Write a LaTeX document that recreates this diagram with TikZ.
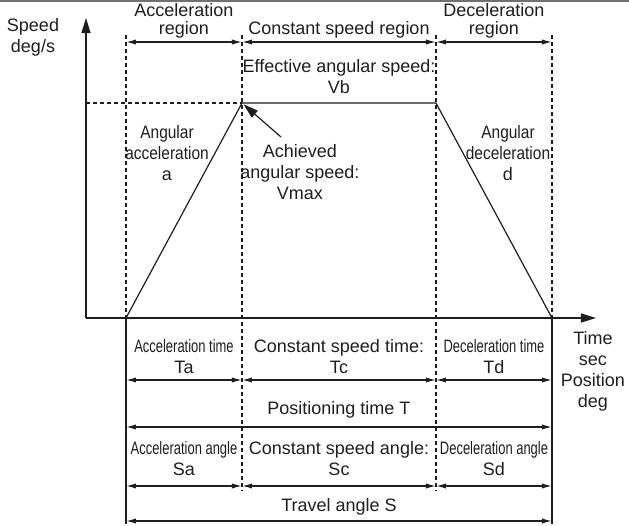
\documentclass[tikz,border=0pt]{standalone}
\usepackage{fontspec}
\setmainfont{Liberation Sans}
\usepackage{graphicx}
\usetikzlibrary{arrows.meta}
\definecolor{ink}{HTML}{1E1E1E}
\definecolor{frame}{HTML}{707070}
\newcommand{\narrowtxt}[1]{\scalebox{0.72}[1]{#1}}
\newcommand{\slimtxt}[1]{\scalebox{0.86}[1]{#1}}
\tikzset{
  axis/.style={draw=ink, line width=0.65pt, -{Triangle[length=7.5pt,width=4.5pt]}},
  prof/.style={draw=ink, line width=0.6pt, line join=round},
  guide/.style={draw=ink, line width=0.55pt, dash pattern=on 2pt off 1.5pt},
  edge/.style={draw=ink, line width=0.6pt},
  span/.style={draw=ink, line width=0.6pt, {Latex[length=5pt,width=2.6pt]}-{Latex[length=5pt,width=2.6pt]}},
  pointer/.style={draw=ink, line width=0.6pt, -{Triangle[length=7.5pt,width=4.5pt]}},
  lab/.style={text=ink, font=\fontsize{9}{10.5}\selectfont, align=center, inner sep=0pt},
  labt/.style={lab, font=\fontsize{9}{9}\selectfont},
}

\begin{document}
\begin{tikzpicture}[x=0.5pt, y=-0.5pt]
  \useasboundingbox (0,0) rectangle (629,526);
  \draw[frame, line width=1pt] (0,1) -- (629,1);
  % axes
  \coordinate (O) at (86,318);
  \coordinate (ytip) at (86,18);
  \coordinate (xtip) at (596,318);
  \draw[axis] (O) -- (ytip);
  \draw[axis] (O) -- (xtip);
  % speed profile
  \coordinate (P0) at (126,318);
  \coordinate (P1) at (242,103);
  \coordinate (P2) at (436,103);
  \coordinate (P3) at (552,318);
  \coordinate (Vy) at (86,103);
  \draw[guide] (Vy) -- (P1);
  \draw[prof] (P0) -- (P1) -- (P2) -- (P3);
  % region guides
  \foreach \n/\gx/\gb in {a/126/318,b/242/491,c/436/491,d/552/318}{
    \coordinate (top\n) at (\gx,35);
    \coordinate (bot\n) at (\gx,\gb);
    \draw[guide] (top\n) -- (bot\n);
  }
  \coordinate (enda) at (126,524);
  \coordinate (endd) at (552,524);
  \draw[edge] (P0) -- (enda);
  \draw[edge] (P3) -- (endd);
  % dimension rows
  \foreach \r/\y in {rg/42,tm/380,ag/486}{
    \coordinate (\r a) at (126,\y);
    \coordinate (\r b) at (242,\y);
    \coordinate (\r c) at (436,\y);
    \coordinate (\r d) at (552,\y);
    \draw[span] (\r a) -- (\r b);
    \draw[span] (\r b) -- (\r c);
    \draw[span] (\r c) -- (\r d);
  }
  \foreach \r/\y in {pt/427,tv/521}{
    \coordinate (\r a) at (126,\y);
    \coordinate (\r d) at (552,\y);
    \draw[span] (\r a) -- (\r d);
  }
  % labels
  \node[lab] (speed) at (33,37) {Speed\\deg/s};
  \node[labt] (accreg) at (184,21) {Acceleration\\region};
  \node[lab] (constreg) at (339,30) {Constant speed region};
  \node[labt] (decreg) at (494,21) {Deceleration\\region};
  \node[lab] (vb) at (339,77) {Effective angular speed:\\Vb};
  \node[lab] (acc) at (167,153) {\slimtxt{Angular}\\\slimtxt{acceleration}\\a};
  \node[lab] (dec) at (508,153) {\slimtxt{Angular}\\\slimtxt{deceleration}\\d};
  \node[lab] (vmax) at (300,172) {Achieved\\angular speed:\\Vmax};
  \coordinate (vtail) at (281,137);
  \draw[pointer, shorten >=1pt] (vtail) -- (P1);
  \node[lab] (acctime) at (184,357) {\narrowtxt{Acceleration time}\\Ta};
  \node[lab] (consttime) at (339,357) {Constant speed time:\\Tc};
  \node[lab] (dectime) at (494,357) {\narrowtxt{Deceleration time}\\Td};
  \node[lab] (postime) at (339,410) {Positioning time T};
  \node[lab] (accang) at (184,459) {\narrowtxt{Acceleration angle}\\Sa};
  \node[lab] (constang) at (339,459) {Constant speed angle:\\Sc};
  \node[lab] (decang) at (494,459) {\narrowtxt{Deceleration angle}\\Sd};
  \node[lab] (travel) at (339,507) {Travel angle S};
  \node[lab] (unit) at (593,371) {Time\\sec\\Position\\deg};
\end{tikzpicture}
\end{document}
